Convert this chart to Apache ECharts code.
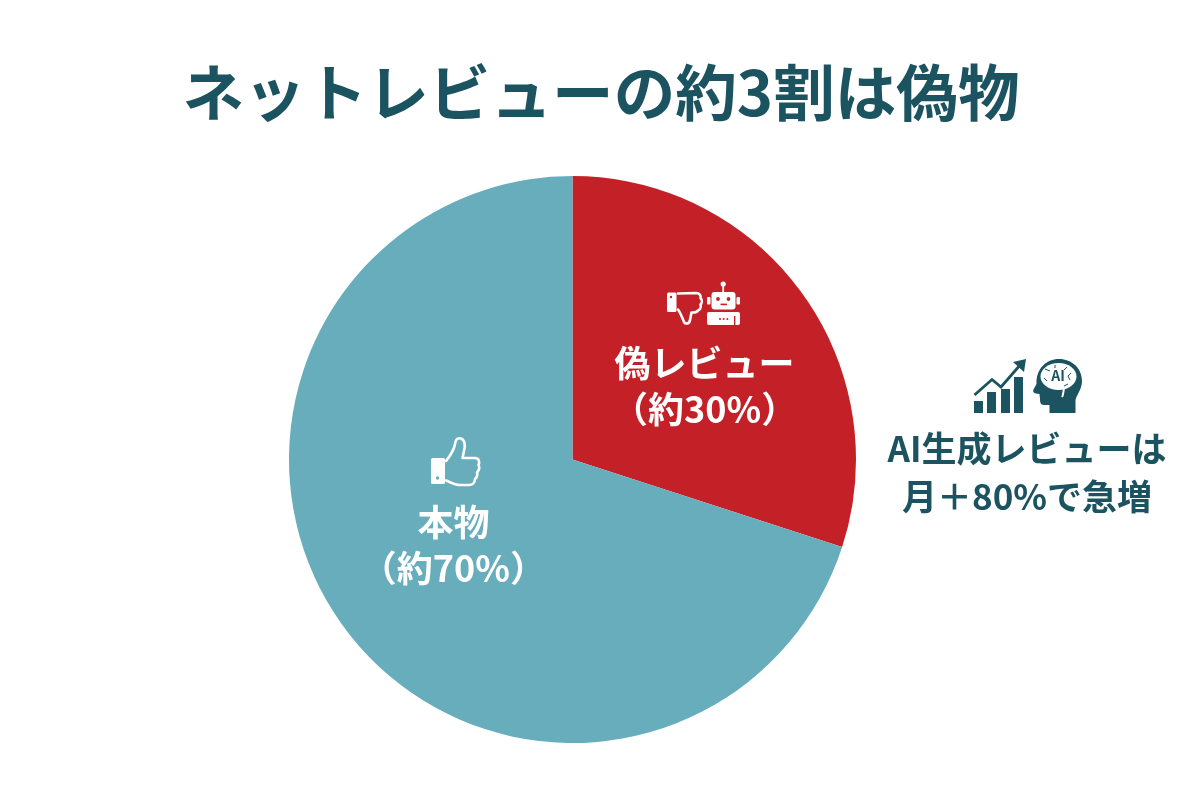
<!DOCTYPE html>
<html lang="ja">
<head>
<meta charset="utf-8">
<style>html,body{margin:0;padding:0;background:#fff}#chart{width:1200px;height:800px}</style>
<script src="https://cdn.jsdelivr.net/npm/echarts@6/dist/echarts.min.js"></script>
</head>
<body>
<div id="chart"></div>
<script>
// Share of online reviews
const sliceNames = ['偽レビュー', '本物'];
const sliceValues = [30, 70];
const sliceColors = ['#c32127', '#68adbc'];
const titleText = 'ネットレビューの約3割は偽物';
const noteLines = ['AI生成レビューは', '月＋80%で急増'];

const FONT = '"Noto Sans CJK JP", "Noto Sans", sans-serif';
const DARK = '#1b5360';
const WHITE = '#ffffff';
const RED = sliceColors[0];

const outline = { fill: 'none', stroke: WHITE, lineWidth: 2.6, lineJoin: 'round', lineCap: 'round' };

// The graphic component has no free-form path type, so each icon outline is registered as a shape.
let pathCount = 0;
function path(d, style) {
  const type = 'iconPath' + pathCount++;
  echarts.graphic.registerShape(type, echarts.graphic.extendPath(d));
  return { type, style, silent: true };
}
function rect(x, y, width, height, fill, r) {
  return { type: 'rect', shape: { x, y, width, height, r: r || 0 }, style: { fill }, silent: true };
}
function dot(cx, cy, r, fill) { return { type: 'circle', shape: { cx, cy, r }, style: { fill }, silent: true }; }

// Thumbs-up icon for the genuine slice
const thumbUp = [
  rect(431, 458, 14, 26, WHITE, 1.5),
  dot(437.5, 478, 1.7, sliceColors[1]),
  path('M446 461 C450 456 454 451 455 444 C455.5 439 458 437.5 461 438.5 C465 440 465.5 446 464 451 L462.5 458 L475 458 C479 458 480 462 478.5 465 C480 468 478.5 471 477 472.5 C478 475 476.5 478 475 479 C475 483 472 485 469 485 L460 485 C454 485 450 482 446 480.5', outline)
];

// Thumbs-down and robot icons for the fake slice
const thumbDown = [
  rect(667, 292.5, 9.5, 19.5, WHITE, 1.5),
  dot(671, 297, 1.2, RED),
  path('M678 293.5 L696 293 C700 293 701 296 700.5 298 C702.5 300 702 303 700.5 304.5 C701.5 307 700 310 698 310.5 C697 312 695 312.5 693 312.5 L691.5 312.5 L690 320 C689.5 324 685.5 324.5 684 322 C682 317 680.5 313 678 309.5', outline)
];
const robot = [
  rect(722.3, 285, 1.8, 8, WHITE),
  dot(723.2, 284, 2.6, WHITE),
  rect(711.5, 292, 24, 17.5, WHITE, 3),
  rect(707, 297, 3.5, 7.5, WHITE, 1),
  rect(736.5, 297, 3.5, 7.5, WHITE, 1),
  dot(718, 299, 1.9, RED),
  dot(728.5, 299, 1.9, RED),
  rect(720.5, 303.6, 6.5, 1.6, RED),
  rect(707, 312, 33, 13, WHITE, 2),
  dot(720, 319, 1, RED),
  dot(723.7, 319, 1, RED),
  dot(727.4, 319, 1, RED),
  rect(734, 316, 1.4, 9, RED)
];

// Rising bars and the AI head beside the note
const growth = [
  rect(974, 401, 9, 12, DARK),
  rect(987, 392, 9, 21, DARK),
  rect(1001, 389, 9, 24, DARK),
  rect(1014, 377, 9, 36, DARK),
  path('M974.5 395 L992 379.5 L1001 387 L1021 364', { fill: 'none', stroke: DARK, lineWidth: 2.8, lineJoin: 'miter' }),
  path('M1013 362 L1026 359 L1024 372 Z', { fill: DARK })
];
const brain = [
  path('M1049.5 413 L1049.5 405 L1044 405 C1040.5 405 1040 402 1040 399 L1039.5 394 L1036 393.5 C1033.5 393 1032.5 391.5 1033.5 389.5 L1036.5 384 C1036 369 1046 359 1059 359 C1072 359 1082 368.5 1082 381 C1082 389 1077 394 1075.5 400 L1075.5 413 Z', { fill: DARK }),
  { type: 'ellipse', shape: { cx: 1058.5, cy: 376.5, rx: 18, ry: 13.5 }, style: { fill: WHITE }, silent: true },
  path('M1064 389 C1063 392 1063.5 395 1062 397', { fill: 'none', stroke: WHITE, lineWidth: 2 }),
  path('M1045 369 L1050 371 M1055 365 L1055 368 M1067 367 L1064 370 M1071 373 L1068 376 L1070 380 M1044 378 L1047 381 M1064 386 L1068 384', { fill: 'none', stroke: DARK, lineWidth: 1 }),
  { type: 'text', x: 1058, y: 375.5, silent: true, style: { text: 'AI', fill: DARK, font: '700 14px ' + FONT, align: 'center', verticalAlign: 'middle' } }
];

const noteTexts = noteLines.map((text, i) => ({
  type: 'text', x: 1027, y: 449 + i * 48, silent: true,
  style: { text, fill: DARK, font: '700 35px ' + FONT, align: 'center', verticalAlign: 'middle' }
}));

// Icons sit above the pie slices
const overlays = [...thumbUp, ...thumbDown, ...robot, ...growth, ...brain, ...noteTexts];
overlays.forEach((el) => { el.z = 10; });

const labelOffsets = [[15, 12], [-2, 1]];

const chart = echarts.init(document.getElementById('chart'), null, { renderer: 'canvas' });
chart.setOption({
  animation: false,
  backgroundColor: WHITE,
  title: {
    text: titleText,
    left: 596,
    top: 88,
    textAlign: 'center',
    textVerticalAlign: 'middle',
    textStyle: { fontFamily: FONT, fontSize: 61.6, fontWeight: 700, color: DARK }
  },
  series: [{
    type: 'pie',
    center: [572.5, 459.5],
    radius: [0, 283.5],
    startAngle: 90,
    clockwise: true,
    silent: true,
    labelLine: { show: false },
    data: sliceNames.map((name, i) => ({
      name,
      value: sliceValues[i],
      itemStyle: { color: sliceColors[i], borderWidth: 0 },
      label: {
        show: true,
        position: 'inside',
        offset: labelOffsets[i],
        formatter: '{b}\n（約{c}%）',
        color: WHITE,
        fontFamily: FONT,
        fontSize: 36,
        fontWeight: 700,
        lineHeight: 46,
        align: 'center'
      }
    }))
  }],
  graphic: { elements: overlays }
});
</script>
</body>
</html>
